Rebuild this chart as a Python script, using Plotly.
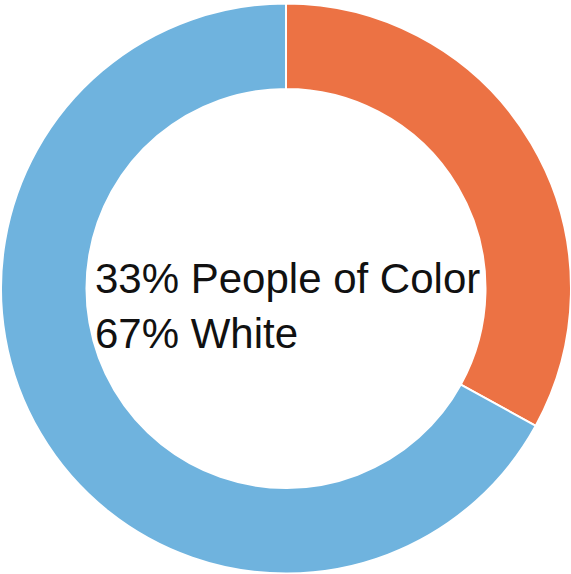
import plotly.graph_objects as go

labels = ["People of Color", "White"]
values = [33, 67]
colors = ["#ec7244", "#6fb3de"]

fig = go.Figure(go.Pie(
    labels=labels,
    values=values,
    hole=0.70,
    sort=False,
    direction="clockwise",
    rotation=0,
    marker=dict(colors=colors, line=dict(color="white", width=2)),
    textinfo="none",
    showlegend=False,
))

center_text = "<br>".join(f"{v}% {l}" for v, l in zip(values, labels))

fig.add_annotation(
    text=center_text,
    x=92/571, y=0.469, xref="paper", yref="paper",
    xanchor="left", yanchor="middle", align="left",
    showarrow=False,
    font=dict(family="Liberation Sans, Arial, sans-serif", size=42, color="#111111"),
)

fig.update_layout(
    width=571, height=574,
    margin=dict(l=1, r=0, t=3, b=0),
    paper_bgcolor="white",
    plot_bgcolor="white",
)

fig.write_html(
    "out.html",
    config={"displayModeBar": False},
    post_script="document.body.style.margin='0';document.body.style.overflow='hidden';",
)
